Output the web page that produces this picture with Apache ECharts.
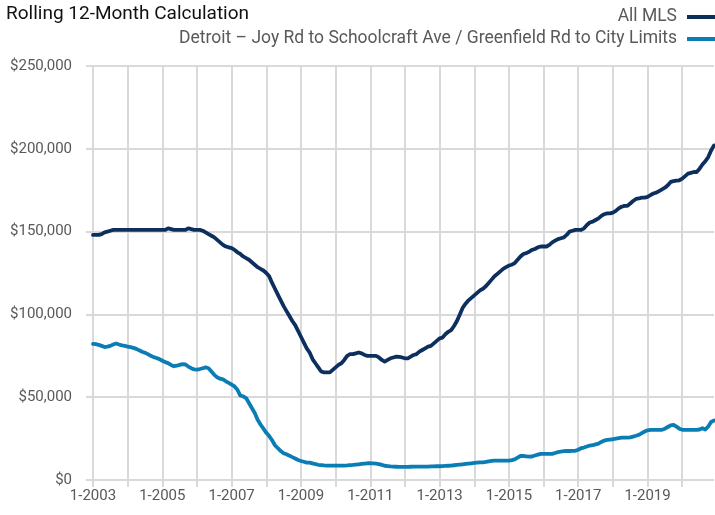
<!DOCTYPE html>
<html>
<head>
<meta charset="utf-8">
<script src="https://cdn.jsdelivr.net/npm/echarts@6.0.0/dist/echarts.min.js"></script>
<style>
    html, body { margin: 0; padding: 0; background: #fff; }
    #chart { width: 715px; height: 515px; }
</style>
</head>
<body>
<div id="chart"></div>
<script>
// years on the axis, one category per month (1-2003 .. 12-2020)
const years = [2003, 2004, 2005, 2006, 2007, 2008, 2009, 2010, 2011, 2012,
    2013, 2014, 2015, 2016, 2017, 2018, 2019, 2020];
const seriesNames = ['All MLS', 'Detroit – Joy Rd to Schoolcraft Ave / Greenfield Rd to City Limits'];
const yTicks = [0, 50000, 100000, 150000, 200000, 250000];

// values in thousands of dollars
const allMls = [
    148, 148, 148, 148.5, 149.5, 150, 150.5, 151, 151, 151, 151, 151,
    151, 151, 151, 151, 151, 151, 151, 151, 151, 151, 151, 151,
    151, 151, 152, 151.5, 151, 151, 151, 151, 151, 152, 151.5, 151,
    151, 151, 150.5, 149.5, 148.5, 147.5, 146.5, 145, 143.5, 142, 141, 140.5,
    140, 139, 137.5, 136.5, 135, 134, 133, 131.5, 130, 128.5, 127.5, 126.5,
    125, 123, 119, 115.5, 112, 108.5, 105, 102, 99, 96, 93.5, 90,
    86.5, 83, 79.5, 77, 73, 70.5, 68, 65.5, 65, 65, 65, 66.5,
    68, 69.5, 70.5, 72.5, 75, 76, 76, 76.5, 77, 76.5, 75.5, 75,
    75, 75, 75, 74, 72.5, 71.5, 72.5, 73.5, 74, 74.5, 74.3, 74,
    73.5, 73.5, 74.5, 75.5, 76, 77.5, 78.5, 79.5, 80.5, 81, 82.5, 84,
    85.5, 86, 88, 89.5, 90.5, 93, 96, 100, 104, 106.5, 108.5, 110,
    111.5, 113, 114.5, 115.5, 117, 119, 121, 123, 124.5, 126, 127.5, 128.5,
    129.5, 130, 131, 133, 135, 136.5, 137, 137.8, 139, 139.5, 140.5, 141,
    141, 141, 142, 143.5, 144.5, 145.5, 146, 146.5, 148, 150, 150.5, 151,
    151, 151, 152, 154, 155.5, 156, 157, 158, 159.5, 160.5, 161, 161,
    161.5, 162.5, 164, 165, 165.5, 165.5, 167, 168.5, 169.7, 170, 170.5, 170.5,
    171, 172, 173, 173.5, 174.5, 175.5, 176.5, 178, 180, 180.5, 180.8, 181,
    182, 183.5, 185, 185.5, 186, 186, 188, 190.5, 192.5, 195, 199, 202
];

const detroit = [
    82.2, 82, 81.6, 81, 80.3, 80.5, 81, 81.8, 82.4, 81.8, 81.3, 81,
    80.6, 80.2, 79.8, 79.2, 78.3, 77.5, 76.8, 76, 75, 74.2, 73.7, 73,
    72, 71.2, 70.6, 69.5, 68.7, 69, 69.5, 70, 69.8, 68.5, 67.5, 66.8,
    66.7, 67, 67.5, 68, 67.5, 65.5, 63.5, 62, 61.2, 60.8, 59.6, 58.6,
    57.6, 56.5, 54.5, 51, 50.5, 49.5, 46.5, 43.5, 40.5, 36.4, 33.5, 31,
    28.5, 26.5, 24, 21, 19.2, 17.5, 16.2, 15.5, 14.7, 13.8, 13, 12.1,
    11.5, 11, 10.5, 10.5, 10, 9.6, 9.2, 9, 8.8, 8.7, 8.7, 8.7,
    8.7, 8.7, 8.7, 8.7, 8.8, 9, 9.1, 9.3, 9.5, 9.7, 9.9, 10.1,
    10.1, 10, 9.9, 9.6, 9.1, 8.6, 8.4, 8.2, 8.1, 8, 7.9, 7.9,
    7.9, 7.9, 8, 8.1, 8.1, 8.1, 8.1, 8.1, 8.1, 8.2, 8.2, 8.3,
    8.3, 8.4, 8.5, 8.6, 8.7, 8.9, 9.1, 9.3, 9.5, 9.7, 9.9, 10.1,
    10.3, 10.5, 10.7, 10.7, 10.9, 11.2, 11.5, 11.7, 11.7, 11.7, 11.7, 11.7,
    11.7, 12, 12.5, 13.5, 14.5, 14.5, 14.3, 14.1, 14.2, 14.8, 15.3, 15.8,
    15.8, 15.8, 15.8, 15.8, 16.3, 16.8, 17.2, 17.4, 17.5, 17.5, 17.6, 17.6,
    18.3, 19.2, 19.6, 20.2, 20.8, 21, 21.5, 22, 23, 23.8, 24.2, 24.4,
    24.6, 25, 25.3, 25.6, 25.6, 25.6, 25.7, 26.2, 26.7, 27.3, 28.3, 29.3,
    30, 30.3, 30.3, 30.3, 30.3, 30.3, 31, 32, 33, 33.3, 32.2, 31,
    30.3, 30.3, 30.3, 30.3, 30.3, 30.3, 30.5, 31.3, 30.5, 32.3, 35, 35.9
];

const months = [];
years.forEach(year => {
    for (let m = 1; m <= 12; m++) {
        months.push(m + '-' + year);
    }
});

const gridColor = '#d9d9d9';
const labelColor = '#595959';
const fontFamily = 'Roboto, "Liberation Sans", sans-serif';

const toDollars = arr => arr.map(v => v * 1000);

const myChart = echarts.init(document.getElementById('chart'));

const option = {
    animation: false,
    title: {
        text: 'Rolling 12-Month Calculation',
        left: 1,
        top: 0,
        textStyle: {
            color: '#111',
            fontSize: 19,
            fontWeight: 'normal',
            fontFamily
        }
    },
    legend: {
        data: seriesNames,
        orient: 'vertical',
        right: 0,
        top: 8,
        padding: 0,
        align: 'right', // icon to the right of the text
        itemWidth: 28,
        itemHeight: 4,
        itemGap: 4,
        icon: 'rect',
        textStyle: {
            color: labelColor,
            fontSize: 17.5,
            fontFamily,
            padding: [0, 5, 0, 0]
        }
    },
    grid: {
        left: 93,
        right: 1,
        top: 66,
        bottom: 35
    },
    xAxis: {
        type: 'category',
        data: months,
        boundaryGap: false,
        axisLine: { show: false },
        axisTick: {
            show: true,
            interval: 11,
            length: 7,
            lineStyle: { color: gridColor, width: 2 }
        },
        splitLine: {
            show: true,
            interval: 11,
            lineStyle: { color: gridColor, width: 2 }
        },
        axisLabel: {
            interval: 23,
            color: labelColor,
            fontSize: 15,
            fontFamily,
            margin: 9
        }
    },
    yAxis: {
        type: 'value',
        min: yTicks[0],
        max: yTicks[yTicks.length - 1],
        interval: yTicks[1] - yTicks[0],
        axisLine: { show: false },
        axisTick: {
            show: true,
            length: 7,
            lineStyle: { color: gridColor, width: 2 }
        },
        splitLine: {
            lineStyle: { color: gridColor, width: 2 }
        },
        axisLabel: {
            color: labelColor,
            fontSize: 15,
            fontFamily,
            margin: 21,
            formatter: value => '$' + value.toLocaleString('en-US')
        }
    },
    series: [{
        name: seriesNames[0],
        type: 'line',
        data: toDollars(allMls),
        showSymbol: false,
        color: '#0c2f5e',
        lineStyle: { width: 3.8, cap: 'round', join: 'round' },
        z: 3
    }, {
        name: seriesNames[1],
        type: 'line',
        data: toDollars(detroit),
        showSymbol: false,
        color: '#0a7db5',
        lineStyle: { width: 3.8, cap: 'round', join: 'round' },
        z: 2
    }]
};

myChart.setOption(option);
</script>
</body>
</html>
